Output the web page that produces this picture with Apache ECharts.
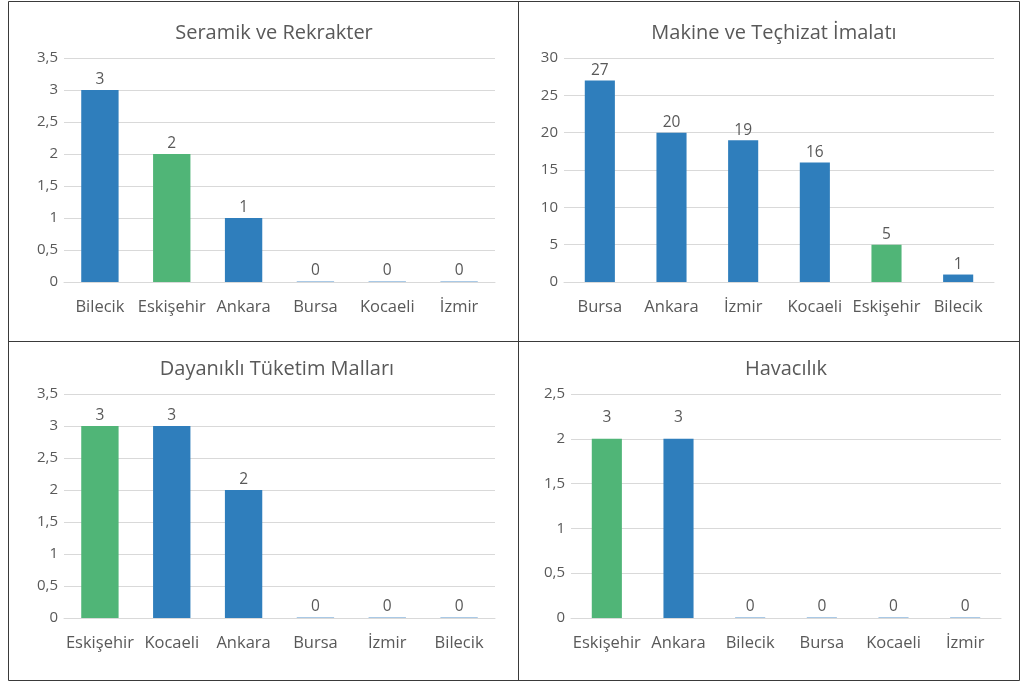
<!DOCTYPE html>
<html>
<head>
<meta charset="utf-8">
<script src="https://cdn.jsdelivr.net/npm/echarts@6/dist/echarts.min.js"></script>
<style>
  html, body { margin: 0; padding: 0; background: #fff; }
  #main { width: 1023px; height: 683px; }
</style>
</head>
<body>
<div id="main"></div>
<script>
// panel titles
var titles = ['Seramik ve Rekrakter', 'Makine ve Teçhizat İmalatı', 'Dayanıklı Tüketim Malları', 'Havacılık'];

// categories per panel
var seramikCats = ['Bilecik', 'Eskişehir', 'Ankara', 'Bursa', 'Kocaeli', 'İzmir'];
var makineCats = ['Bursa', 'Ankara', 'İzmir', 'Kocaeli', 'Eskişehir', 'Bilecik'];
var dayanikliCats = ['Eskişehir', 'Kocaeli', 'Ankara', 'Bursa', 'İzmir', 'Bilecik'];
var havacilikCats = ['Eskişehir', 'Ankara', 'Bilecik', 'Bursa', 'Kocaeli', 'İzmir'];

// bar values
var seramikVals = [3, 2, 1, 0, 0, 0];
var makineVals = [27, 20, 19, 16, 5, 1];
var dayanikliVals = [3, 3, 2, 0, 0, 0];
var havacilikVals = [2, 2, 0, 0, 0, 0];

// data labels as printed (Havacılık labels differ from bar heights in the original)
var seramikLabels = [3, 2, 1, 0, 0, 0];
var makineLabels = [27, 20, 19, 16, 5, 1];
var dayanikliLabels = [3, 3, 2, 0, 0, 0];
var havacilikLabels = [3, 3, 0, 0, 0, 0];

// y axis ranges
var yMax = [3.5, 30, 3.5, 2.5];
var yStep = [0.5, 5, 0.5, 0.5];

var BLUE = '#2f7ebc';
var GREEN = '#50b577';
var ZERO = '#a9c9e6';
var TEXT = '#595959';
var GRIDC = '#d9d9d9';
var FONT = 'Open Sans';

var cats = [seramikCats, makineCats, dayanikliCats, havacilikCats];
var vals = [seramikVals, makineVals, dayanikliVals, havacilikVals];
var labs = [seramikLabels, makineLabels, dayanikliLabels, havacilikLabels];

var grids = [
  { left: 64, top: 58, width: 431, height: 224 },
  { left: 564, top: 58, width: 430, height: 224 },
  { left: 64, top: 394, width: 431, height: 224 },
  { left: 571, top: 394, width: 430, height: 224 }
];
var barW = ['52%', '42%', '52%', '42%'];
var titlePos = [[269, 18], [769, 18], [272, 354], [781, 354]];

var option = {
  animation: false,
  backgroundColor: '#fff',
  title: titles.map(function (t, i) {
    return {
      text: t, left: titlePos[i][0], top: titlePos[i][1], textAlign: 'center',
      textStyle: { color: TEXT, fontFamily: FONT, fontSize: 20, fontWeight: 'normal' }
    };
  }),
  grid: grids,
  xAxis: cats.map(function (c, i) {
    return {
      type: 'category', gridIndex: i, data: c,
      axisLine: { lineStyle: { color: GRIDC } },
      axisTick: { show: false },
      axisLabel: { color: TEXT, fontFamily: FONT, fontSize: 16.5, margin: 17, interval: 0 }
    };
  }),
  yAxis: yMax.map(function (m, i) {
    return {
      type: 'value', gridIndex: i, min: 0, max: m, interval: yStep[i],
      axisLine: { show: false },
      axisTick: { show: false },
      splitLine: { lineStyle: { color: GRIDC } },
      axisLabel: {
        color: TEXT, fontFamily: FONT, fontSize: 15, margin: 6,
        formatter: function (v) { return String(v).replace('.', ','); }
      }
    };
  }),
  series: vals.map(function (v, i) {
    return {
      type: 'bar', xAxisIndex: i, yAxisIndex: i, barWidth: barW[i], barMinHeight: 1,
      data: v.map(function (x, j) {
        var color = x === 0 ? ZERO : (cats[i][j] === 'Eskişehir' ? GREEN : BLUE);
        var item = { value: x, itemStyle: { color: color } };
        if (labs[i][j] !== x) item.label = { distance: 13 };
        return item;
      }),
      label: {
        show: true, position: 'top', distance: 2, color: TEXT, fontFamily: FONT, fontSize: 15.5,
        formatter: function (p) { return String(labs[i][p.dataIndex]); }
      }
    };
  }),
  graphic: [
    { type: 'rect', shape: { x: 8.5, y: 1.5, width: 1011, height: 679 }, style: { fill: 'none', stroke: '#3a3a3a', lineWidth: 1 } },
    { type: 'line', shape: { x1: 518.5, y1: 1.5, x2: 518.5, y2: 680.5 }, style: { stroke: '#3a3a3a', lineWidth: 1 } },
    { type: 'line', shape: { x1: 8.5, y1: 341.5, x2: 1019.5, y2: 341.5 }, style: { stroke: '#3a3a3a', lineWidth: 1 } }
  ]
};

var chart = echarts.init(document.getElementById('main'));
chart.setOption(option);
</script>
</body>
</html>
